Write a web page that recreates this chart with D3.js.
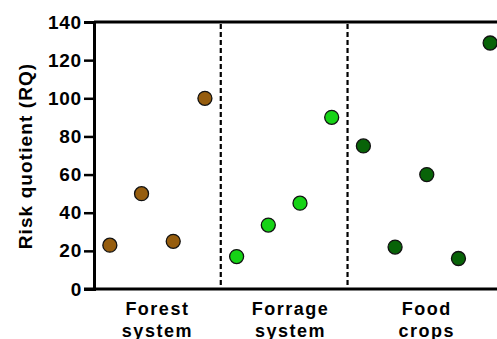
<!DOCTYPE html>
<html>
<head>
<meta charset="utf-8">
<script src="https://cdn.jsdelivr.net/npm/d3@7"></script>
<style>
  body { margin: 0; background: #fff; }
  text { font-family: "Liberation Sans", Arial, sans-serif; font-weight: bold; }
</style>
</head>
<body>
<svg id="chart"></svg>
<script>
const width = 497;
const height = 339;

// data
const groups = ['Forest system', 'Forrage system', 'Food crops'];
const groupColors = ['#965d0e', '#16d316', '#086308'];
const forestRQ = [23, 50, 25, 100];
const forrageRQ = [17, 33.5, 45, 90];
const foodRQ = [75, 22, 60, 16, 129];
const yTicks = [0, 20, 40, 60, 80, 100, 120, 140];

const series = [forestRQ, forrageRQ, foodRQ];
const labelPos = [1.5, 5.7, 10];

let points = [];
let idx = 0;
let bounds = [];
series.forEach((vals, g) => {
    let start = idx;
    vals.forEach(v => {
        points.push({ i: idx, value: v, group: g });
        idx++;
    });
    bounds.push({ start: start, end: idx - 1 });
});

const svg = d3.select('#chart')
    .attr('width', width)
    .attr('height', height);

const x = d3.scaleLinear().domain([-0.5, 12.5]).range([94, 506]);
const y = d3.scaleLinear().domain([0, 140]).range([289, 22]);

// frame top line
svg.append('line')
    .attr('x1', x(-0.5)).attr('x2', width)
    .attr('y1', y(140)).attr('y2', y(140))
    .attr('stroke', '#000').attr('stroke-width', 3);

// x axis baseline
svg.append('line')
    .attr('x1', x(-0.5) - 10).attr('x2', width)
    .attr('y1', y(0)).attr('y2', y(0))
    .attr('stroke', '#000').attr('stroke-width', 3);

// y axis
const yAxis = svg.append('g')
    .attr('transform', `translate(${x(-0.5)},0)`)
    .call(d3.axisLeft(y).tickValues(yTicks).tickSize(10).tickPadding(2));
yAxis.select('.domain').attr('stroke-width', 3);
yAxis.selectAll('.tick line').attr('stroke-width', 2.5);
yAxis.selectAll('.tick text')
    .attr('font-size', 19)
    .attr('fill', '#000')
    .style('letter-spacing', '0.8px');

// dashed separators between groups
bounds.slice(0, -1).forEach(b => {
    svg.append('line')
        .attr('x1', x(b.end + 0.5)).attr('x2', x(b.end + 0.5))
        .attr('y1', y(140) + 2).attr('y2', y(0))
        .attr('stroke', '#000')
        .attr('stroke-width', 2.2)
        .attr('stroke-dasharray', '5,3');
});

// points
svg.selectAll('circle').data(points)
    .enter().append('circle')
    .attr('cx', d => x(d.i))
    .attr('cy', d => y(d.value))
    .attr('r', 7)
    .attr('fill', d => groupColors[d.group])
    .attr('stroke', '#111')
    .attr('stroke-width', 1.3);

// group labels
groups.forEach((name, g) => {
    const cx = x(labelPos[g]);
    const t = svg.append('text')
        .attr('x', cx)
        .attr('text-anchor', 'middle')
        .attr('font-size', 18)
        .style('letter-spacing', '1.5px');
    name.split(' ').forEach((w, k) => {
        t.append('tspan')
            .attr('x', cx)
            .attr('y', 315 + k * 22)
            .text(w);
    });
});

// y title
svg.append('text')
    .attr('transform', 'translate(32,156) rotate(-90)')
    .attr('text-anchor', 'middle')
    .attr('font-size', 19)
    .style('letter-spacing', '1.1px')
    .text('Risk quotient (RQ)');
</script>
</body>
</html>
